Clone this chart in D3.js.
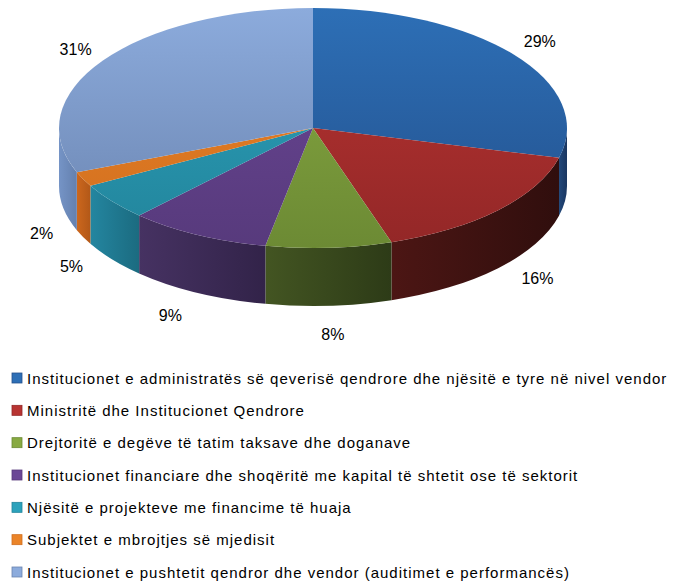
<!DOCTYPE html>
<html>
<head>
<meta charset="utf-8">
<script src="https://cdn.jsdelivr.net/npm/d3@7"></script>
<style>
  html, body { margin: 0; padding: 0; background: #ffffff; }
  svg { display: block; }
</style>
</head>
<body>
<svg id="chart" width="682" height="581"></svg>
<script>
// Shares of audited entities by category (percent)
const categories = [
  "Institucionet e administratës së qeverisë qendrore dhe njësitë e tyre në nivel vendor",
  "Ministritë dhe Institucionet Qendrore",
  "Drejtoritë e degëve të tatim taksave dhe doganave",
  "Institucionet financiare dhe shoqëritë me kapital të shtetit ose të sektorit",
  "Njësitë e projekteve me financime të huaja",
  "Subjektet e mbrojtjes së mjedisit",
  "Institucionet e pushtetit qendror dhe vendor (auditimet e performancës)"
];
const values = [29, 16, 8, 9, 5, 2, 31];
const valueLabels = ["29%", "16%", "8%", "9%", "5%", "2%", "31%"];

// Slice colours: top face gradient (light, dark) and side wall gradient (light, dark)
const topLight  = ["#2d6fb6", "#b83432", "#88aa42", "#6b4796", "#2ca2bc", "#eb8428", "#8cabdc"];
const topDark   = ["#23508c", "#932727", "#6c8a34", "#573a7c", "#22849b", "#d06e1e", "#6a84b0"];
const sideLight = ["#22487a", "#4c1614", "#435522", "#463262", "#2486a0", "#cc671d", "#7594c6"];
const sideDark  = ["#1a3660", "#300e0d", "#2d3b17", "#322349", "#1b6b80", "#b25818", "#6480ae"];

const svg = d3.select("#chart");
const defs = svg.append("defs");

const cx = 313, cy = 128, rx = 254, ry = 120, depth = 58;

const pie = d3.pie().sort(null).value(d => d)
  .startAngle(0).endAngle(2 * Math.PI);
const arcs = pie(values);

// Point on the elliptical rim for an angle measured clockwise from 12 o'clock
const px = a => cx + rx * Math.sin(a);
const py = (a, dy = 0) => cy - ry * Math.cos(a) + dy;

// Gradients
arcs.forEach((d, i) => {
  const gt = defs.append("linearGradient")
    .attr("id", "top" + i)
    .attr("gradientUnits", "userSpaceOnUse")
    .attr("x1", 0).attr("y1", cy - ry).attr("x2", 0).attr("y2", cy + ry);
  gt.append("stop").attr("offset", "0%").attr("stop-color", topLight[i]);
  gt.append("stop").attr("offset", "100%").attr("stop-color", topDark[i]);

  const gs = defs.append("linearGradient")
    .attr("id", "side" + i)
    .attr("x1", "0%").attr("y1", "0%").attr("x2", "100%").attr("y2", "0%");
  gs.append("stop").attr("offset", "0%").attr("stop-color", sideLight[i]);
  gs.append("stop").attr("offset", "100%").attr("stop-color", sideDark[i]);
});

// Side walls: only the front half of the rim (from 3 o'clock to 9 o'clock) is visible
const sideG = svg.append("g");
arcs.forEach((d, i) => {
  const a0 = Math.max(d.startAngle, Math.PI / 2);
  const a1 = Math.min(d.endAngle, 3 * Math.PI / 2);
  if (a1 <= a0) return;
  const path = `M${px(a0)},${py(a0)}` +
    `A${rx},${ry} 0 0 1 ${px(a1)},${py(a1)}` +
    `L${px(a1)},${py(a1, depth)}` +
    `A${rx},${ry} 0 0 0 ${px(a0)},${py(a0, depth)}Z`;
  sideG.append("path")
    .attr("d", path)
    .attr("fill", `url(#side${i})`);
});

// Top faces
const topG = svg.append("g");
arcs.forEach((d, i) => {
  const large = (d.endAngle - d.startAngle) > Math.PI ? 1 : 0;
  const path = `M${cx},${cy}` +
    `L${px(d.startAngle)},${py(d.startAngle)}` +
    `A${rx},${ry} 0 ${large} 1 ${px(d.endAngle)},${py(d.endAngle)}Z`;
  topG.append("path")
    .attr("d", path)
    .attr("fill", `url(#top${i})`);
});

// Percentage labels outside the pie; front labels sit below the side wall
const k = 1.17;
const mid = d => (d.startAngle + d.endAngle) / 2;
svg.append("g").selectAll("text")
  .data(arcs)
  .join("text")
  .attr("x", d => {
    const c = Math.cos(mid(d));
    const kx = 1.13 + 0.12 * Math.max(0, -c);
    return cx + kx * rx * Math.sin(mid(d));
  })
  .attr("y", d => {
    const c = Math.cos(mid(d));
    return cy - k * ry * c + (c < 0 ? depth * (0.52 + 0.62 * -c) : 0);
  })
  .attr("text-anchor", "middle")
  .attr("dominant-baseline", "central")
  .attr("font-family", "Liberation Sans, Arial, sans-serif")
  .attr("font-size", 16)
  .attr("fill", "#000")
  .text((d, i) => valueLabels[i]);

// Legend
const legendY = d3.scaleLinear().domain([0, categories.length - 1]).range([378, 572]);
const leg = svg.append("g").selectAll("g")
  .data(categories)
  .join("g")
  .attr("transform", (d, i) => `translate(12,${legendY(i)})`);

leg.append("rect")
  .attr("x", 0).attr("y", -5)
  .attr("width", 10).attr("height", 10)
  .attr("fill", (d, i) => `url(#top${i})`)
  .attr("stroke", (d, i) => topDark[i])
  .attr("stroke-width", 0.8);

leg.append("text")
  .attr("x", 15)
  .attr("y", 0)
  .attr("dominant-baseline", "central")
  .attr("font-family", "Liberation Sans, Arial, sans-serif")
  .attr("font-size", 15)
  .attr("letter-spacing", 1)
  .attr("fill", "#000")
  .text(d => d);
</script>
</body>
</html>
